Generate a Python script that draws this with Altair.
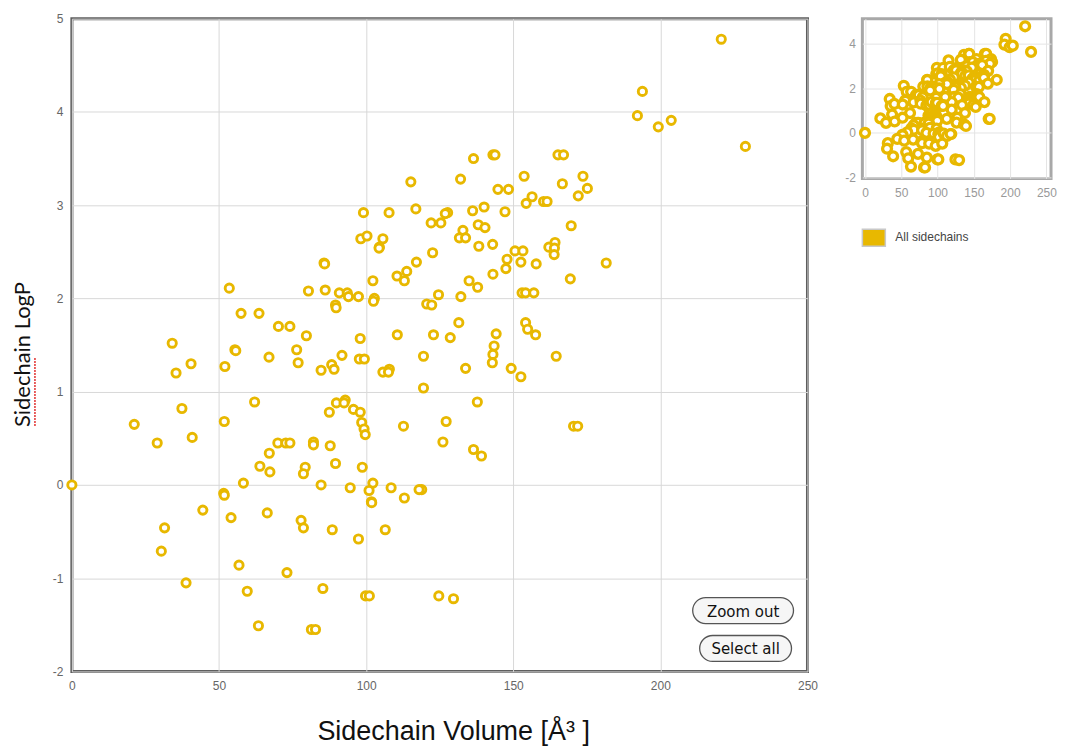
import altair as alt
import pandas as pd

# Sidechain volume (Å^3) and LogP
volume = [
    220.7, 193.9, 192.2, 199.3, 203.7, 228.9,
    136.5, 143.1, 143.8, 165.2, 167.1, 115.2, 132.1, 153.7, 144.8, 148.4,
    173.7, 166.7, 175.2, 172.1, 156.4, 154.4, 160.3, 161.5, 99.1, 107.8,
    116.9, 127.7, 126.9, 136.2, 140.1, 147.2, 122.1, 125.4, 138.1, 140.4,
    132.9, 131.7, 133.8, 138.3, 143.0, 169.7, 122.6, 150.6, 153.3, 147.9,
    147.5, 152.6, 157.8, 162.1, 164.2, 164.0, 163.9, 181.6, 143.1, 135.0,
    137.9, 169.4, 132.2, 153.0, 154.2, 157.0, 124.6, 120.6, 122.3, 131.5,
    122.9, 128.6, 144.2, 143.5, 143.1, 142.9, 154.2, 154.9, 157.6, 119.5,
    133.8, 149.3, 152.6, 164.6, 119.5, 137.8, 127.2, 126.1, 136.5, 139.2,
    170.5, 171.9, 118.9, 124.7, 129.7,
    98.2, 100.3, 105.7, 104.5, 104.4, 85.7, 85.9, 117.1, 113.8, 110.5,
    113.0, 102.3, 53.5, 80.4, 86.1, 90.9, 93.6, 94.0, 97.4, 102.8,
    102.5, 89.6, 89.8, 57.5, 63.6, 70.2, 74.1, 79.7, 98.0, 110.6, 34.1,
    55.4, 55.7, 67.0, 76.4, 76.9, 35.4, 40.5, 52.0, 84.7, 88.3, 89.1,
    91.8, 97.7, 99.4, 105.7, 107.9, 107.6, 62.1, 37.4, 21.2, 29.0, 40.9,
    51.8, 87.5, 89.9, 92.9, 92.5, 95.7, 98.0, 98.5, 99.3, 99.7, 112.7,
    70.0, 72.7, 74.1, 67.1, 82.1, 82.1, 87.8, 63.9, 67.3, 79.3, 78.7,
    89.6, 98.7, 0.0, 58.3, 51.6, 51.8, 84.7, 94.6, 102.3, 101.0, 101.8,
    101.9, 108.5, 113.0, 118.0, 44.5, 54.1, 66.4, 77.9, 78.7, 88.5, 97.4,
    106.5, 31.5, 30.4, 56.8, 73.1, 38.8, 59.6, 85.3, 99.8, 101.1, 63.4,
    81.4, 82.8,
]
logp = [
    4.78, 4.22, 3.96, 3.84, 3.91, 3.63,
    3.50, 3.54, 3.54, 3.54, 3.54, 3.25, 3.28, 3.31, 3.17, 3.17,
    3.31, 3.23, 3.18, 3.10, 3.09, 3.02, 3.04, 3.04, 2.92, 2.92,
    2.96, 2.92, 2.91, 2.94, 2.98, 2.93, 2.81, 2.81, 2.79, 2.76,
    2.73, 2.65, 2.65, 2.56, 2.58, 2.78, 2.49, 2.51, 2.51, 2.42,
    2.32, 2.39, 2.37, 2.55, 2.60, 2.54, 2.47, 2.38, 2.26, 2.19,
    2.12, 2.21, 2.02, 2.06, 2.06, 2.06, 2.04, 1.94, 1.93, 1.74,
    1.61, 1.58, 1.62, 1.49, 1.40, 1.31, 1.74, 1.67, 1.61, 1.38,
    1.25, 1.25, 1.16, 1.38, 1.04, 0.89, 0.68, 0.46, 0.38, 0.31,
    0.63, 0.63, -0.05, -1.19, -1.22,
    2.64, 2.67, 2.64, 2.55, 2.54, 2.38, 2.37, 2.39, 2.29, 2.24,
    2.19, 2.19, 2.11, 2.08, 2.09, 2.06, 2.06, 2.02, 2.02, 2.00,
    1.97, 1.93, 1.90, 1.84, 1.84, 1.70, 1.70, 1.60, 1.57, 1.61, 1.52,
    1.45, 1.44, 1.37, 1.45, 1.31, 1.20, 1.30, 1.27, 1.23, 1.29, 1.24,
    1.39, 1.35, 1.35, 1.21, 1.24, 1.21, 0.89, 0.82, 0.65, 0.45, 0.51,
    0.68, 0.78, 0.88, 0.91, 0.88, 0.81, 0.78, 0.67, 0.60, 0.54, 0.63,
    0.45, 0.45, 0.45, 0.34, 0.46, 0.43, 0.42, 0.20, 0.14, 0.19, 0.12,
    0.23, 0.19, 0.00, 0.02, -0.09, -0.11, 0.00, -0.03, 0.02, -0.06, -0.18,
    -0.19, -0.03, -0.14, -0.05, -0.27, -0.35, -0.30, -0.38, -0.46, -0.48, -0.58,
    -0.48, -0.46, -0.71, -0.86, -0.94, -1.05, -1.14, -1.11, -1.19, -1.19, -1.51,
    -1.55, -1.55,
]

x_ticks = [0, 50, 100, 150, 200, 250]
y_ticks_main = [-2, -1, 0, 1, 2, 3, 4, 5]
y_ticks_inset = [-2, 0, 2, 4]
series_name = ["All sidechains"]
buttons = ["Zoom out", "Select all"]

df = pd.DataFrame({"volume": volume, "logp": logp})

GOLD = "#E8B800"
LABEL_FONT = "Liberation Sans"
HYPHEN = "datum.value < 0 ? '-' + abs(datum.value) : '' + datum.value"

W, H = 737, 654

main_points = alt.Chart(df).mark_point(
    shape="circle", fill="white", stroke=GOLD, strokeWidth=2.9, size=68, opacity=1
).encode(
    x=alt.X(
        "volume:Q",
        scale=alt.Scale(domain=[0, 250], nice=False, zero=False),
        axis=alt.Axis(
            values=x_ticks, title="Sidechain Volume [Å³ ]", grid=True,
            gridColor="#d8d8d8", gridWidth=1, domain=False, ticks=False,
            labelFlush=False, labelExpr=HYPHEN,
            labelPadding=9, labelFontSize=12, labelColor="#666", labelFont=LABEL_FONT,
            titleFont=LABEL_FONT, titleFontSize=27, titleFontWeight="normal",
            titleColor="#111", titleX=382, titleY=60, titleAlign="center",
            titleBaseline="middle",
        ),
    ),
    y=alt.Y(
        "logp:Q",
        scale=alt.Scale(domain=[-2, 5], nice=False, zero=False),
        axis=alt.Axis(
            values=y_ticks_main, title="Sidechain LogP", grid=True,
            gridColor="#d8d8d8", gridWidth=1, domain=False, ticks=False,
            labelFlush=False, labelExpr=HYPHEN,
            labelPadding=9, labelFontSize=12, labelColor="#666", labelFont=LABEL_FONT,
            titleFont="Lato", titleFontSize=22, titleFontWeight="normal",
            titleColor="#111", titleX=-49, titleY=336, titleAngle=-90,
            titleAlign="center", titleBaseline="middle",
        ),
    ),
)

spell = alt.Chart(pd.DataFrame({"w": ["Sidechain"]})).mark_rule(
    color="#e03030", strokeWidth=1.5, strokeDash=[2, 1]
).encode(x=alt.value(-37), y=alt.value(340), y2=alt.value(408))

btn_df = pd.DataFrame({"label": buttons})
btn_layers = []
for label, (x0, x1, y0, y1) in zip(buttons, [(622, 723, 580, 606), (629, 721, 618, 644)]):
    d = btn_df[btn_df.label == label]
    btn_layers.append(
        alt.Chart(d).mark_rect(
            cornerRadius=13, fill="#f6f6f6", stroke="#555", strokeWidth=1.3
        ).encode(x=alt.value(x0), x2=alt.value(x1), y=alt.value(y0), y2=alt.value(y1))
    )
    btn_layers.append(
        alt.Chart(d).mark_text(
            fontSize=15, font="DejaVu Sans", color="#111", align="center", baseline="middle"
        ).encode(text="label:N", x=alt.value((x0 + x1) / 2), y=alt.value((y0 + y1) / 2 + 1))
    )

main = alt.layer(main_points, spell, *btn_layers).properties(
    width=W, height=H, view=alt.ViewBackground(stroke="#5e5e5e", strokeWidth=3)
)

inset_points = alt.Chart(df).mark_point(
    shape="circle", fill="white", stroke=GOLD, strokeWidth=3.3, size=80, opacity=1
).encode(
    x=alt.X(
        "volume:Q",
        scale=alt.Scale(domain=[-3.6, 256.4], nice=False, zero=False),
        axis=alt.Axis(
            values=x_ticks, title=None, grid=True, gridColor="#e4e4e4",
            domain=False, ticks=False, labelPadding=9, labelFontSize=12,
            labelFlush=False, labelExpr=HYPHEN,
            labelColor="#999", labelFont=LABEL_FONT,
        ),
    ),
    y=alt.Y(
        "logp:Q",
        scale=alt.Scale(domain=[-2.04, 5.12], nice=False, zero=False),
        axis=alt.Axis(
            values=y_ticks_inset, title=None, grid=True, gridColor="#e4e4e4",
            domain=False, ticks=False, labelPadding=7, labelFontSize=12,
            labelFlush=False, labelExpr=HYPHEN,
            labelColor="#999", labelFont=LABEL_FONT,
        ),
    ),
)

leg_df = pd.DataFrame({"name": series_name})
leg_swatch = alt.Chart(leg_df).mark_rect(fill=GOLD, stroke="#c8c8c8", strokeWidth=1.5).encode(
    x=alt.value(0), x2=alt.value(23), y=alt.value(211), y2=alt.value(228)
)
leg_text = alt.Chart(leg_df).mark_text(
    fontSize=12, font=LABEL_FONT, color="#444", align="left", baseline="middle"
).encode(text="name:N", x=alt.value(33), y=alt.value(219))

inset = alt.layer(inset_points, leg_swatch, leg_text).properties(
    width=189, height=160, view=alt.ViewBackground(stroke="#a8a8a8", strokeWidth=3)
)

chart = alt.hconcat(main, inset, spacing=55, bounds="flush").properties(
    padding={"left": 2, "top": 2, "right": 0, "bottom": 0}
).configure(background="white")

chart.save("out.html", embed_options={"renderer": "svg", "actions": False})
